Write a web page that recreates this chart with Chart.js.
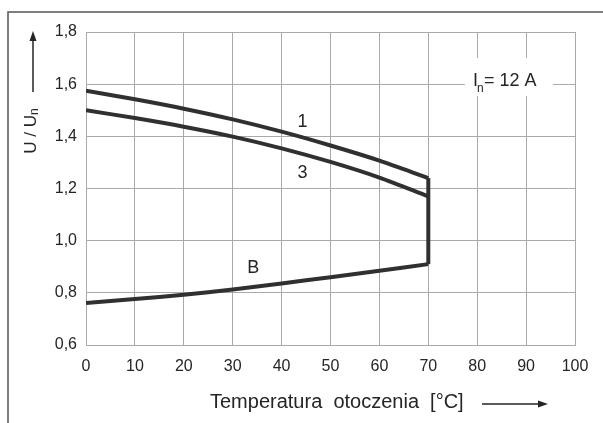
<!DOCTYPE html>
<html>
<head>
<meta charset="utf-8">
<script src="https://cdn.jsdelivr.net/npm/chart.js@4"></script>
<style>
  html, body { margin: 0; padding: 0; background: #fff; }
  #wrap { width: 603px; height: 423px; position: relative; }
</style>
</head>
<body>
<div id="wrap"><canvas id="chart"></canvas></div>
<script>
// Temperature points (°C) and relative voltage U/Un
const temps = [0, 10, 20, 30, 40, 50, 60, 70]
const curve1 = [1.575, 1.542, 1.506, 1.465, 1.418, 1.365, 1.307, 1.24]
const curve3 = [1.5, 1.47, 1.437, 1.399, 1.354, 1.302, 1.242, 1.17]
const curveB = [0.761, 0.776, 0.793, 0.813, 0.836, 0.86, 0.885, 0.91]
// vertical limit at 70 °C joining B with curve 1
const limitX = [70, 70]
const limitY = [0.91, 1.24]

const xTicks = [0, 10, 20, 30, 40, 50, 60, 70, 80, 90, 100]
const yTicks = [0.6, 0.8, 1.0, 1.2, 1.4, 1.6, 1.8]

// curve labels in data coordinates
const curveLabels = [
  { text: "1", x: 44.3, y: 1.455 },
  { text: "3", x: 44.3, y: 1.26 },
  { text: "B", x: 34.2, y: 0.895 },
]

const LINE = "#303030"
const GRID = "#a9a9a9"
const TEXT = "#252525"
const FONT = "'Liberation Sans', Arial, sans-serif"

const toPts = (xs, ys) => xs.map((x, i) => ({ x: x, y: ys[i] }))

function arrow(ctx, x1, y1, x2, y2) {
  const ang = Math.atan2(y2 - y1, x2 - x1)
  const len = 10
  ctx.beginPath()
  ctx.moveTo(x1, y1)
  ctx.lineTo(x2 - Math.cos(ang) * len * 0.8, y2 - Math.sin(ang) * len * 0.8)
  ctx.stroke()
  ctx.beginPath()
  ctx.moveTo(x2, y2)
  ctx.lineTo(x2 - Math.cos(ang) * len - Math.sin(ang) * 3.5, y2 - Math.sin(ang) * len + Math.cos(ang) * 3.5)
  ctx.lineTo(x2 - Math.cos(ang) * len + Math.sin(ang) * 3.5, y2 - Math.sin(ang) * len - Math.cos(ang) * 3.5)
  ctx.closePath()
  ctx.fill()
}

const decorations = {
  id: "decorations",
  beforeDraw(chart) {
    const ctx = chart.ctx
    ctx.save()
    ctx.strokeStyle = "#555"
    ctx.lineWidth = 1.5
    ctx.beginPath()
    ctx.moveTo(8, 423)
    ctx.lineTo(8, 12)
    ctx.lineTo(603, 12)
    ctx.stroke()
    ctx.restore()
  },
  afterDatasetsDraw(chart) {
    const ctx = chart.ctx
    const xs = chart.scales.x
    const ys = chart.scales.y
    ctx.save()
    ctx.fillStyle = TEXT
    ctx.strokeStyle = TEXT

    // curve labels
    ctx.font = "18px " + FONT
    ctx.textAlign = "center"
    ctx.textBaseline = "middle"
    curveLabels.forEach((l) => {
      ctx.fillText(l.text, xs.getPixelForValue(l.x), ys.getPixelForValue(l.y))
    })

    // In = 12 A box
    ctx.fillStyle = "#fff"
    ctx.fillRect(465, 58, 88, 38)
    ctx.fillStyle = TEXT
    ctx.textAlign = "left"
    ctx.textBaseline = "alphabetic"
    ctx.font = "18px " + FONT
    ctx.fillText("I", 473, 86)
    ctx.font = "12px " + FONT
    ctx.fillText("n", 477, 92)
    ctx.font = "18px " + FONT
    ctx.fillText("= 12 A", 484, 86)

    // y axis title, rotated
    ctx.save()
    ctx.translate(31, 131)
    ctx.rotate(-Math.PI / 2)
    ctx.font = "17px " + FONT
    ctx.textBaseline = "middle"
    ctx.textAlign = "left"
    const w1 = ctx.measureText("U / U").width
    ctx.font = "12px " + FONT
    const w2 = ctx.measureText("n").width
    const start = -(w1 + w2) / 2
    ctx.font = "17px " + FONT
    ctx.fillText("U / U", start, 0)
    ctx.font = "12px " + FONT
    ctx.fillText("n", start + w1, 4)
    ctx.restore()

    ctx.lineWidth = 1.5
    arrow(ctx, 33, 92, 33, 31)

    // x axis title
    ctx.font = "20px " + FONT
    ctx.textAlign = "left"
    ctx.textBaseline = "alphabetic"
    ctx.fillText("Temperatura  otoczenia  [°C]", 210, 408)
    arrow(ctx, 482, 404, 548, 404)
    ctx.restore()
  },
}

new Chart(document.getElementById("chart"), {
  type: "line",
  data: {
    datasets: [
      { label: "1", data: toPts(temps, curve1) },
      { label: "3", data: toPts(temps, curve3) },
      { label: "B", data: toPts(temps, curveB) },
      { label: "limit", data: toPts(limitX, limitY), tension: 0 },
    ].map((d) => Object.assign({
      borderColor: LINE,
      borderWidth: 4,
      pointRadius: 0,
      fill: false,
      tension: 0.3,
      borderCapStyle: "butt",
      borderJoinStyle: "miter",
    }, d)),
  },
  options: {
    responsive: true,
    maintainAspectRatio: false,
    animation: false,
    layout: { padding: { top: 32, right: 28, left: 0, bottom: 0 } },
    plugins: { legend: { display: false }, tooltip: { enabled: false } },
    scales: {
      x: {
        type: "linear",
        min: 0,
        max: 100,
        afterBuildTicks: (axis) => { axis.ticks = xTicks.map((v) => ({ value: v })) },
        afterFit: (axis) => { axis.height = 78 },
        grid: { color: GRID, lineWidth: 1, drawTicks: false },
        border: { color: GRID, width: 1 },
        ticks: { color: TEXT, padding: 12, font: { family: FONT, size: 16 }, maxRotation: 0 },
      },
      y: {
        min: 0.6,
        max: 1.8,
        afterBuildTicks: (axis) => { axis.ticks = yTicks.map((v) => ({ value: v })) },
        afterFit: (axis) => { axis.width = 86 },
        grid: { color: GRID, lineWidth: 1, drawTicks: false },
        border: { color: GRID, width: 1 },
        ticks: {
          color: TEXT,
          padding: 9,
          font: { family: FONT, size: 16 },
          callback: (v) => Number(v).toFixed(1).replace(".", ","),
        },
      },
    },
  },
  plugins: [decorations],
})
</script>
</body>
</html>
